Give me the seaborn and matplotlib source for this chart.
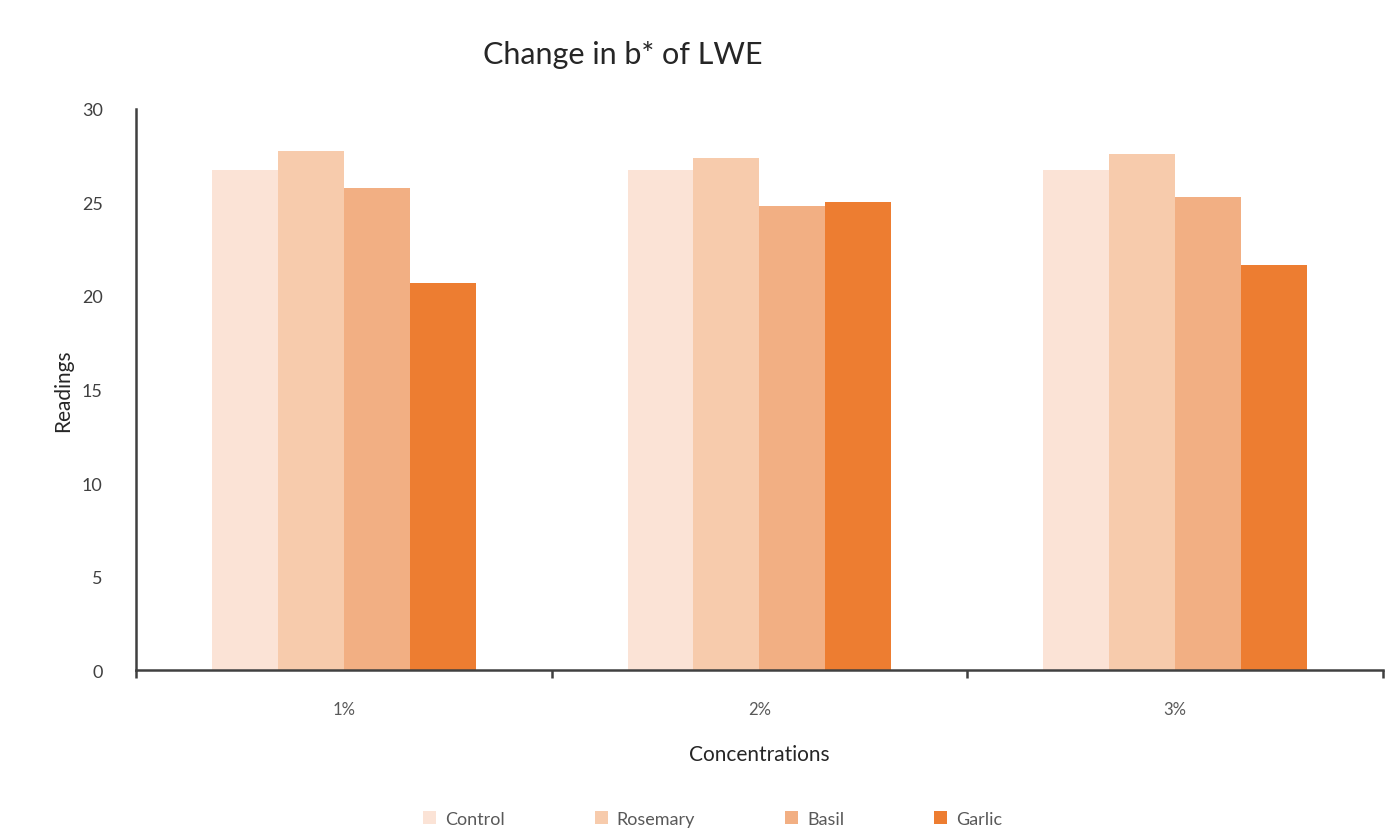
import numpy as np
import pandas as pd
import matplotlib
matplotlib.use("Agg")
import matplotlib.pyplot as plt
import seaborn as sns

concentrations = ["1%", "2%", "3%"]
treatments = ["Control", "Rosemary", "Basil", "Garlic"]
control = [26.75, 26.75, 26.75]
rosemary = [27.74, 27.36, 27.58]
basil = [25.79, 24.83, 25.31]
garlic = [20.68, 25.00, 21.66]
colors = ["#FBE3D6", "#F7CBAC", "#F2AF83", "#ED7D31"]

df = pd.DataFrame({
    "Concentration": concentrations * 4,
    "Treatment": [t for t in treatments for _ in concentrations],
    "Reading": control + rosemary + basil + garlic,
})

sns.set_theme(style="white")
plt.rcParams["font.family"] = ["Lato", "DejaVu Sans"]

fig = plt.figure(figsize=(13.92, 8.37), dpi=100)
ax = fig.add_axes([0.0977, 0.1983, 0.8958, 0.6703])

sns.barplot(data=df, x="Concentration", y="Reading", hue="Treatment",
            order=concentrations, hue_order=treatments, palette=colors,
            width=0.635, gap=0, saturation=1, linewidth=0, ax=ax, legend=True)

ax.set_xlim(-0.5, 2.5)
ax.set_ylim(0, 30)
ax.set_yticks(np.arange(0, 31, 5))
ax.set_xticks([-0.5, 0.5, 1.5, 2.5], minor=True)
ax.tick_params(axis="x", which="major", bottom=False, length=0, pad=22,
               labelsize=12, labelcolor="#595959")
ax.tick_params(axis="x", which="minor", bottom=True, length=6, width=1.8,
               color="#404040", direction="out")
ax.tick_params(axis="y", left=False, length=0, pad=24, labelsize=13, labelcolor="#404040")

for side in ["top", "right"]:
    ax.spines[side].set_visible(False)
for side in ["left", "bottom"]:
    ax.spines[side].set_color("#404040")
    ax.spines[side].set_linewidth(1.8)

ax.set_xlabel("Concentrations", fontsize=15, color="#262626", labelpad=20)
ax.set_ylabel("Readings", fontsize=15, color="#262626", labelpad=6)
ax.set_title("Change in b* of LWE", fontsize=22, color="#262626", pad=33, x=0.39)

handles, labels = ax.get_legend_handles_labels()
ax.legend(handles, labels, loc="upper center", bbox_to_anchor=(0.4625, -0.222),
          ncol=4, frameon=False, fontsize=13, handlelength=0.7, handleheight=0.7,
          columnspacing=5.0, handletextpad=0.5, labelcolor="#595959")

fig.savefig("out.png", dpi=100)
